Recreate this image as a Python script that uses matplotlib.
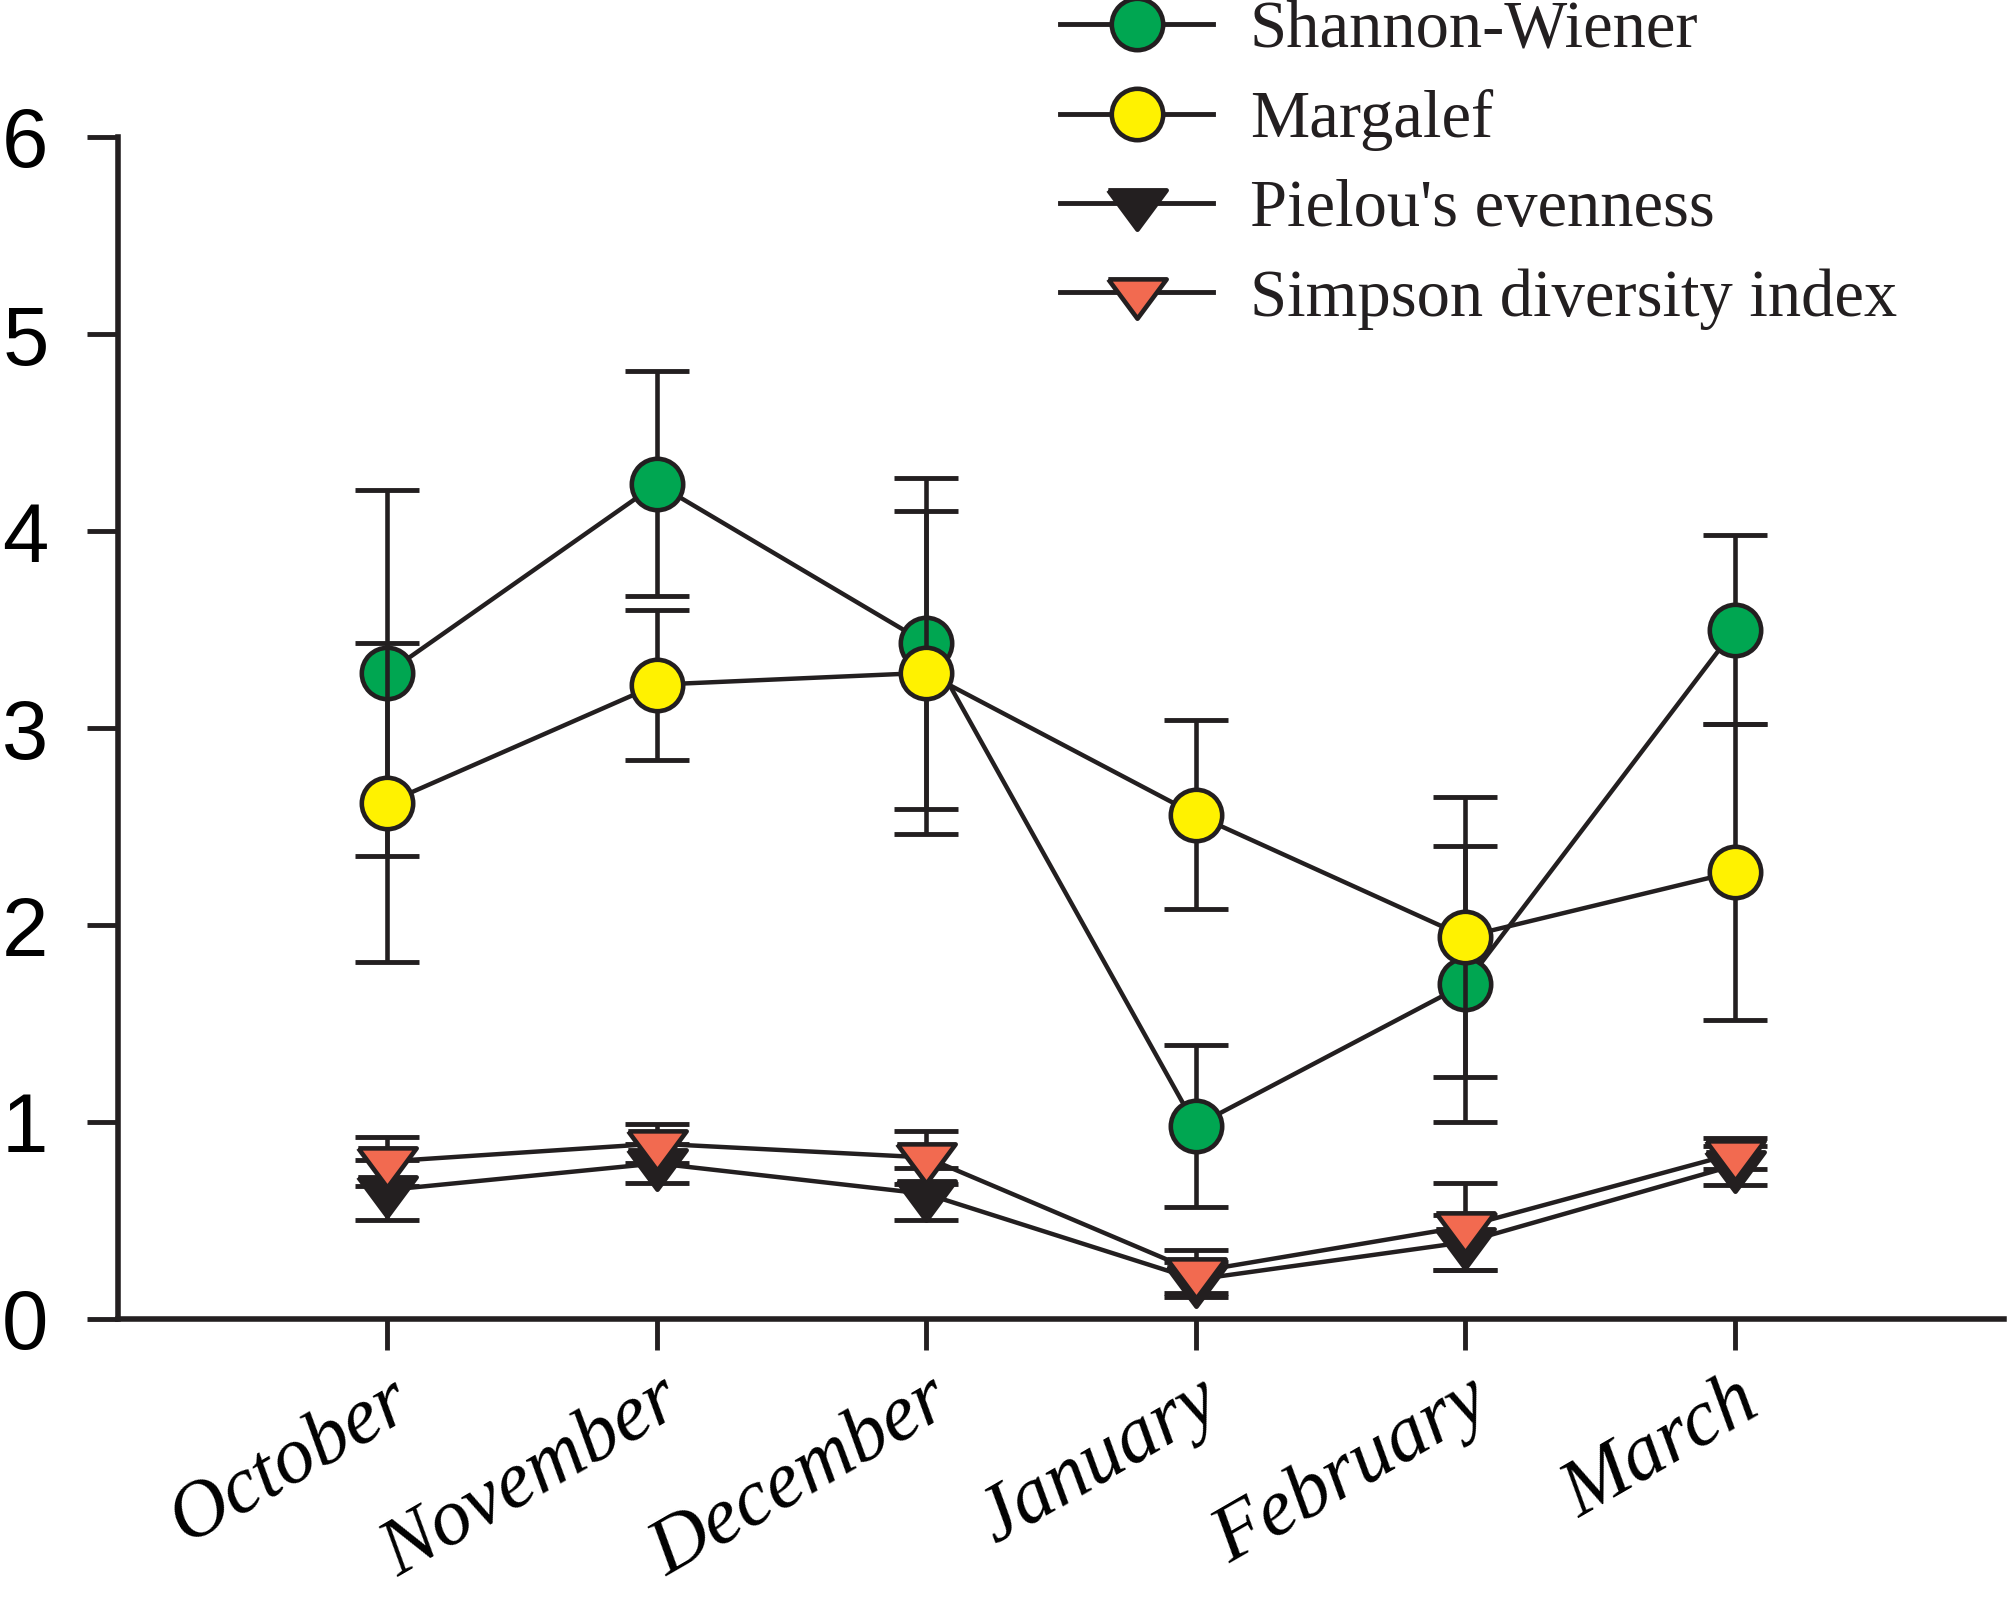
import matplotlib
matplotlib.use("Agg")
import matplotlib.pyplot as plt
from matplotlib.lines import Line2D
import numpy as np

months = ["October", "November", "December", "January", "February", "March"]
series_names = ["Shannon-Wiener", "Margalef", "Pielou's evenness", "Simpson diversity index"]

shannon = [3.28, 4.24, 3.43, 0.98, 1.70, 3.50]
shannon_err = [0.93, 0.57, 0.84, 0.41, 0.70, 0.48]
margalef = [2.62, 3.22, 3.28, 2.56, 1.94, 2.27]
margalef_err = [0.81, 0.38, 0.82, 0.48, 0.71, 0.75]
pielou = [0.655, 0.79, 0.635, 0.20, 0.39, 0.78]
pielou_err = [0.15, 0.10, 0.13, 0.09, 0.14, 0.10]
simpson = [0.80, 0.89, 0.82, 0.24, 0.47, 0.84]
simpson_err = [0.125, 0.10, 0.135, 0.11, 0.22, 0.08]

yticks = [0, 1, 2, 3, 4, 5, 6]

BLACK = "#231f20"
GREEN = "#00a651"
YELLOW = "#fff200"
RED = "#f26a50"

# flattened downward triangle marker
tri = [(-1.0, 0.45), (1.0, 0.45), (0.0, -0.9), (-1.0, 0.45)]

fig = plt.figure(figsize=(20.08, 15.97), dpi=100)
ax = fig.add_axes([118 / 2008, 1 - 1319 / 1597, (2004 - 118) / 2008, (1319 - 137) / 1597])

x = np.arange(1, len(months) + 1)
datasets = [
    (shannon, shannon_err, GREEN, "o", 37),
    (margalef, margalef_err, YELLOW, "o", 37),
    (pielou, pielou_err, BLACK, tri, 42),
    (simpson, simpson_err, RED, tri, 42),
]

handles = []
for i, (vals, errs, col, mk, ms) in enumerate(datasets):
    z = 3 + 3 * i
    ax.errorbar(x, vals, yerr=errs, fmt="none", ecolor=BLACK, elinewidth=3.3,
                capsize=23, capthick=3.5, zorder=z + 1, clip_on=False)
    ax.plot(x, vals, color=BLACK, lw=3.2, zorder=z, clip_on=False)
    ax.plot(x, vals, linestyle="none", marker=mk, markersize=ms,
            markerfacecolor=col, markeredgecolor=BLACK, markeredgewidth=3.3,
            zorder=z + 2, clip_on=False)
    handles.append(Line2D([], [], color=BLACK, lw=3.5, marker=mk, markersize=ms,
                          markerfacecolor=col, markeredgecolor=BLACK, markeredgewidth=3.3))

ax.set_xlim(0, 7)
ax.set_ylim(0, 6)
ax.set_yticks(yticks)
ax.set_yticklabels([str(t) for t in yticks], fontsize=60, family="Liberation Sans")
ax.set_xticks(x)
ax.set_xticklabels(months, fontsize=58, family="Liberation Serif", style="italic",
                   rotation=30, ha="right", va="top", rotation_mode="anchor")

for side in ["top", "right"]:
    ax.spines[side].set_visible(False)
for side in ["left", "bottom"]:
    ax.spines[side].set_linewidth(4.0)
    ax.spines[side].set_color(BLACK)
ax.tick_params(axis="both", direction="out", length=22, width=3.5, color=BLACK)
ax.tick_params(axis="y", pad=28)
ax.tick_params(axis="x", pad=10)

leg = fig.legend(handles, series_names, loc="upper left",
                 bbox_to_anchor=(1060 / 2008, 1.0), bbox_transform=fig.transFigure,
                 frameon=False, borderpad=0, borderaxespad=0,
                 handlelength=2.3, handletextpad=0.55, labelspacing=0.42,
                 prop={"family": "Liberation Serif", "size": 48})
for t in leg.get_texts():
    t.set_color(BLACK)

fig.savefig("out.png", dpi=100)
